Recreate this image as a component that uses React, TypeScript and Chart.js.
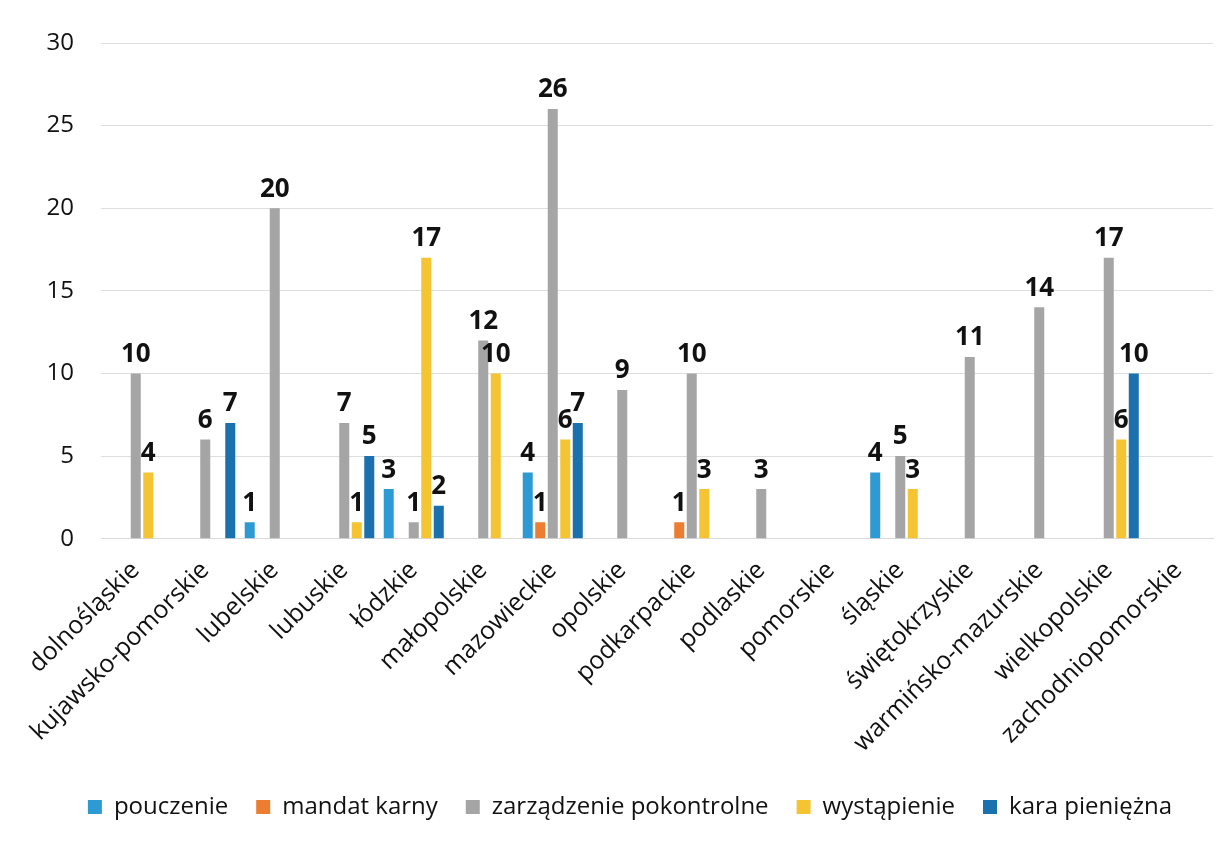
import React, { useEffect, useRef } from "react";
import { Chart, registerables } from "chart.js";

Chart.register(...registerables);

const categories = [
  "dolnośląskie",
  "kujawsko-pomorskie",
  "lubelskie",
  "lubuskie",
  "łódzkie",
  "małopolskie",
  "mazowieckie",
  "opolskie",
  "podkarpackie",
  "podlaskie",
  "pomorskie",
  "śląskie",
  "świętokrzyskie",
  "warmińsko-mazurskie",
  "wielkopolskie",
  "zachodniopomorskie",
];

const seriesNames = ["pouczenie", "mandat karny", "zarządzenie pokontrolne", "wystąpienie", "kara pieniężna"];

const pouczenie = [0, 0, 1, 0, 3, 0, 4, 0, 0, 0, 0, 4, 0, 0, 0, 0];
const mandatKarny = [0, 0, 0, 0, 0, 0, 1, 0, 1, 0, 0, 0, 0, 0, 0, 0];
const zarzadzenie = [10, 6, 20, 7, 1, 12, 26, 9, 10, 3, 0, 5, 11, 14, 17, 0];
const wystapienie = [4, 0, 0, 1, 17, 10, 6, 0, 3, 0, 0, 3, 0, 0, 6, 0];
const karaPieniezna = [0, 7, 0, 5, 2, 0, 7, 0, 0, 0, 0, 0, 0, 0, 10, 0];

const colors = ["#2E9AD3", "#ED7D31", "#A5A5A5", "#F4C432", "#1B70AE"];

const yTicks = [0, 5, 10, 15, 20, 25, 30];

const FONT = "'Open Sans', 'DejaVu Sans', sans-serif";

const valueLabels = {
  id: "valueLabels",
  afterDatasetsDraw(chart: any) {
    const ctx = chart.ctx;
    ctx.save();
    ctx.font = `bold 26px ${FONT}`;
    ctx.fillStyle = "#111111";
    ctx.textAlign = "center";
    ctx.textBaseline = "bottom";
    chart.data.datasets.forEach((ds: any, di: number) => {
      const meta = chart.getDatasetMeta(di);
      meta.data.forEach((el: any, i: number) => {
        const v = ds.data[i];
        if (!v) return;
        ctx.fillText(String(v), el.x, el.y - 6);
      });
    });
    ctx.restore();
  },
};

export default function App() {
  const ref = useRef<HTMLCanvasElement>(null);
  useEffect(() => {
    document.body.style.margin = "0";
    const all = [pouczenie, mandatKarny, zarzadzenie, wystapienie, karaPieniezna];
    const chart = new Chart(ref.current!, {
      type: "bar",
      data: {
        labels: categories,
        datasets: all.map((d, i) => ({
          label: seriesNames[i],
          data: d,
          backgroundColor: colors[i],
          borderWidth: 0,
          barPercentage: 0.8,
          categoryPercentage: 0.9,
        })),
      },
      options: {
        animation: false,
        responsive: false,
        maintainAspectRatio: false,
        layout: { padding: { left: 47, right: 11, top: 43, bottom: 12 } },
        plugins: {
          legend: {
            position: "bottom",
            labels: {
              boxWidth: 14,
              boxHeight: 14,
              padding: 28,
              color: "#111111",
              font: { family: FONT, size: 24 },
            },
          },
          tooltip: { enabled: false },
        },
        scales: {
          x: {
            grid: { display: false },
            border: { color: "#d9d9d9" },
            afterFit: (s: any) => {
              s.paddingLeft = 0;
              s.paddingRight = 0;
            },
            ticks: {
              minRotation: 45,
              maxRotation: 45,
              autoSkip: false,
              color: "#111111",
              padding: 9,
              font: { family: FONT, size: 25 },
            },
          },
          y: {
            min: 0,
            max: 30,
            afterBuildTicks: (axis: any) => {
              axis.ticks = yTicks.map((v) => ({ value: v }));
            },
            afterFit: (s: any) => {
              s.width = 54;
            },
            grid: { color: "#dedede", drawTicks: false },
            border: { display: false },
            ticks: {
              padding: 27,
              color: "#111111",
              font: { family: FONT, size: 24 },
            },
          },
        },
      },
      plugins: [valueLabels],
    });
    return () => chart.destroy();
  }, []);
  return (
    <div style={{ width: 1224, height: 841 }}>
      <canvas ref={ref} width={1224} height={841} style={{ display: "block" }} />
    </div>
  );
}
